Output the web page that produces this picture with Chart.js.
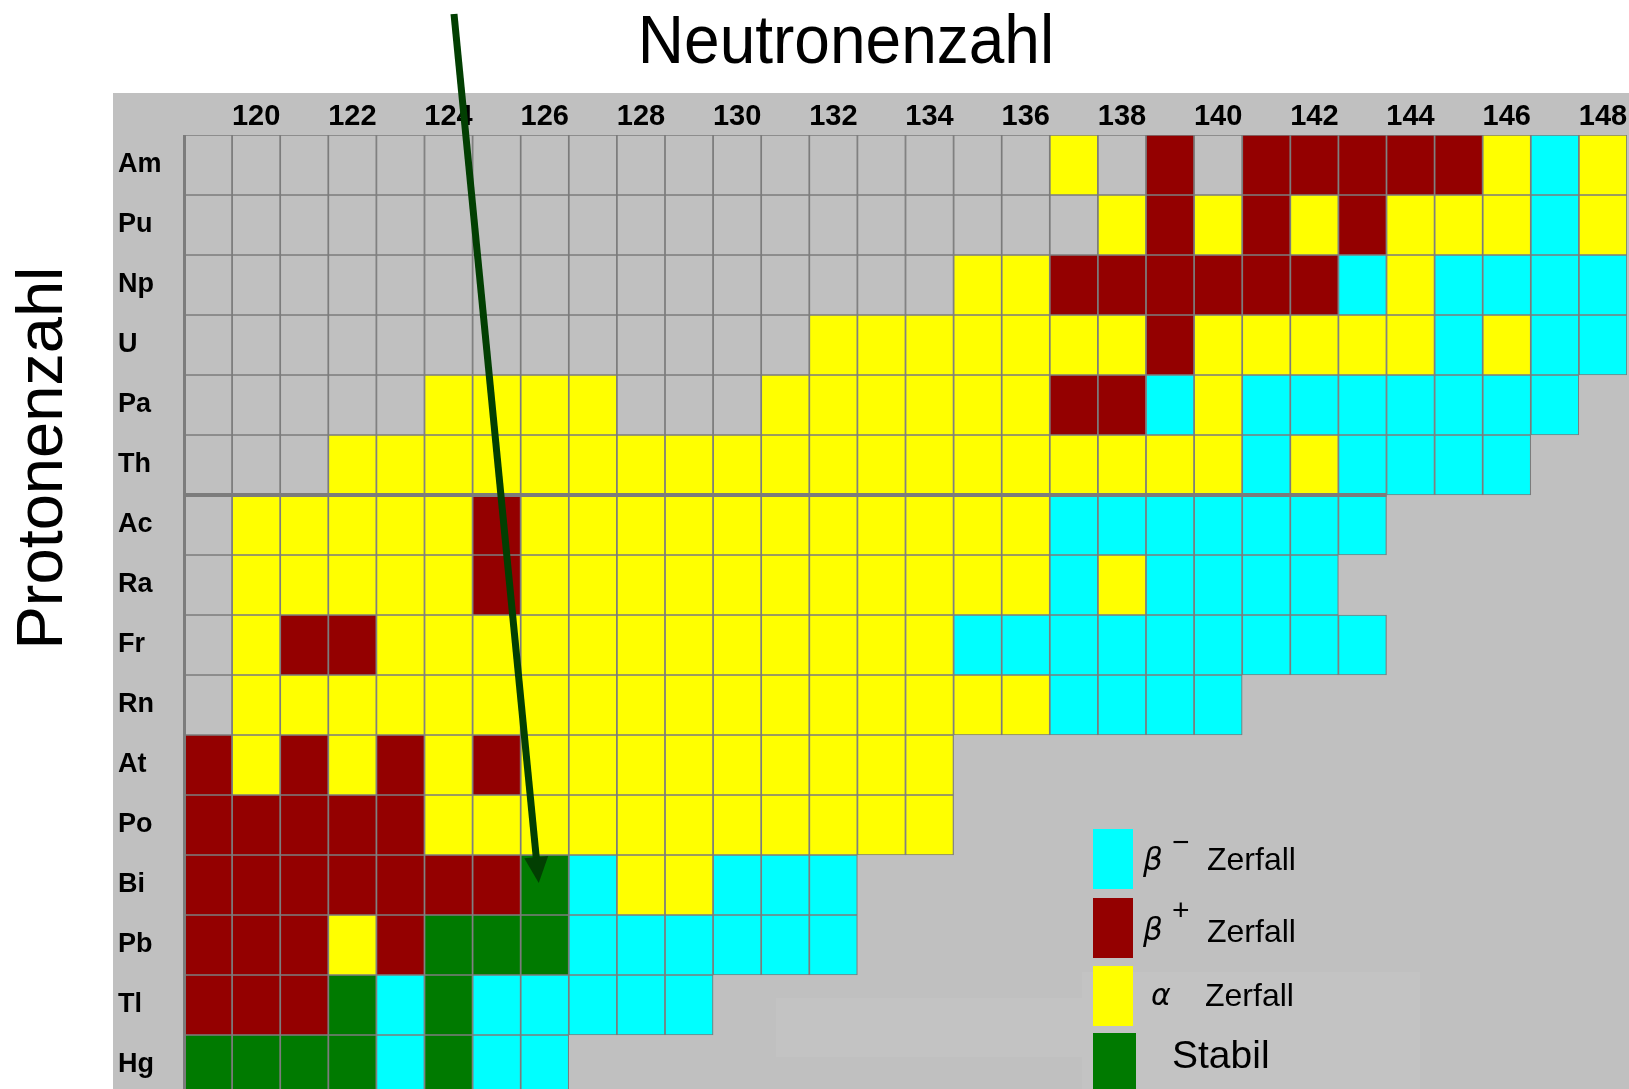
<!DOCTYPE html>
<html>
<head>
<meta charset="utf-8">
<script src="https://cdn.jsdelivr.net/npm/chart.js@4.4.1/dist/chart.umd.min.js"></script>
<style>
html,body{margin:0;padding:0;overflow:hidden;background:#fff;}
canvas{display:block;}
</style>
</head>
<body>
<canvas id="c" width="1629" height="1100"></canvas>
<script>
// ---------- data ----------
const neutronNumbers = [119,120,121,122,123,124,125,126,127,128,129,130,131,132,133,134,135,136,137,138,139,140,141,142,143,144,145,146,147,148];
const neutronTicks = [120,122,124,126,128,130,132,134,136,138,140,142,144,146,148];
const elements = ['Am','Pu','Np','U','Pa','Th','Ac','Ra','Fr','Rn','At','Po','Bi','Pb','Tl','Hg'];
const protonNumbers = [95,94,93,92,91,90,89,88,87,86,85,84,83,82,81,80];
// one character per neutron number (119..148):
// '-' unbekannt (grau), 'a' alpha, 'm' beta-minus, 'p' beta-plus, 's' stabil, '.' kein Nuklid
const decayModes = [
  '------------------a-p-pppppama', // Am
  '-------------------apapapaaama', // Pu
  '----------------aappppppmammmm', // Np
  '-------------aaaaaaapaaaaamamm', // U
  '-----aaaa---aaaaaappmammmmmmm.', // Pa
  '---aaaaaaaaaaaaaaaaaaamammmm..', // Th
  '-aaaaapaaaaaaaaaaammmmmmm.....', // Ac
  '-aaaaapaaaaaaaaaaamammmm......', // Ra
  '-appaaaaaaaaaaaammmmmmmmm.....', // Fr
  '-aaaaaaaaaaaaaaaaammmm........', // Rn
  'papapapaaaaaaaaa..............', // At
  'pppppaaaaaaaaaaa..............', // Po
  'pppppppsmaammm................', // Bi
  'pppapsssmmmmmm................', // Pb
  'pppsmsmmmmm...................', // Tl
  'ssssmsmm......................'  // Hg
];
const legendLabels = ['Zerfall','Zerfall','Zerfall','Stabil'];
const legendSymbols = ['β','β','α',''];
const legendModes = ['m','p','a','s'];
const arrowTarget = {n:126, z:83};

// ---------- styles ----------
const modeColors = {'-':'#c0c0c0', a:'#ffff00', m:'#00ffff', p:'#940000', s:'#007a00'};

const datasets = elements.map((el, r) => {
  const codes = decayModes[r].split('');
  return {
    label: el,
    data: codes.map(c => c === '.' ? null : [protonNumbers[r] - 0.5, protonNumbers[r] + 0.5]),
    backgroundColor: codes.map(c => modeColors[c] || 'rgba(0,0,0,0)'),
    borderColor: '#7c7c7c',
    borderWidth: 1.2,
    borderSkipped: false,
    barPercentage: 1,
    categoryPercentage: 1,
    grouped: false
  };
});

const decor = {
  id: 'decor',
  beforeDraw(chart) {
    const ctx = chart.ctx;
    ctx.save();
    ctx.fillStyle = '#ffffff';
    ctx.fillRect(0, 0, chart.width, chart.height);
    ctx.fillStyle = '#c0c0c0';
    ctx.fillRect(113, 93, chart.width - 113, chart.height - 93);
    ctx.fillStyle = '#c3c3c3';
    ctx.fillRect(776, 998, 306, 59);
    ctx.fillRect(1082, 972, 338, 117);
    ctx.restore();
  },
  afterDatasetsDraw(chart) {
    const ctx = chart.ctx;
    const xs = chart.scales.x, ys = chart.scales.y;
    const half = (xs.getPixelForValue(1) - xs.getPixelForValue(0)) / 2;
    ctx.save();
    // thicker separator between Th and Ac
    const ySep = ys.getPixelForValue(89.5);
    ctx.strokeStyle = '#7c7c7c';
    ctx.lineWidth = 4;
    ctx.beginPath();
    ctx.moveTo(chart.chartArea.left, ySep);
    ctx.lineTo(xs.getPixelForValue(24) + half, ySep);
    ctx.stroke();
    // thicker left edge
    ctx.lineWidth = 3;
    ctx.beginPath();
    ctx.moveTo(chart.chartArea.left + 0.5, chart.chartArea.top);
    ctx.lineTo(chart.chartArea.left + 0.5, chart.chartArea.bottom);
    ctx.stroke();
    ctx.restore();
  },
  afterDraw(chart) {
    const ctx = chart.ctx;
    const xs = chart.scales.x, ys = chart.scales.y;
    ctx.save();
    ctx.fillStyle = '#000';
    // title
    ctx.save();
    ctx.font = '64px "Liberation Sans", Arial, sans-serif';
    ctx.textAlign = 'center';
    ctx.textBaseline = 'alphabetic';
    ctx.translate(846, 63);
    ctx.scale(1, 1.08);
    ctx.fillText('Neutronenzahl', 0, 0);
    ctx.restore();
    // y title
    ctx.save();
    ctx.font = '65px "Liberation Sans", Arial, sans-serif';
    ctx.textAlign = 'center';
    ctx.textBaseline = 'alphabetic';
    ctx.translate(62, 458);
    ctx.rotate(-Math.PI / 2);
    ctx.fillText('Protonenzahl', 0, 0);
    ctx.restore();

    // legend
    const boxTops = [829, 898, 966, 1033];
    legendModes.forEach((m, i) => {
      ctx.fillStyle = modeColors[m];
      ctx.fillRect(1093, boxTops[i], i === 3 ? 43 : 40, 60);
    });
    ctx.fillStyle = '#000';
    ctx.textAlign = 'left';
    ctx.textBaseline = 'alphabetic';
    ctx.font = 'italic 31px "DejaVu Sans", sans-serif';
    ctx.fillText(legendSymbols[0], 1143, 870);
    ctx.fillText(legendSymbols[1], 1143, 940);
    ctx.font = 'italic 30px "DejaVu Sans", sans-serif';
    ctx.fillText(legendSymbols[2], 1151, 1005);
    ctx.font = '30px "Liberation Sans", Arial, sans-serif';
    ctx.fillText('−', 1172, 852);
    ctx.fillText('+', 1172, 920);
    ctx.font = '32px "Liberation Sans", Arial, sans-serif';
    ctx.fillText(legendLabels[0], 1207, 870);
    ctx.fillText(legendLabels[1], 1207, 942);
    ctx.fillText(legendLabels[2], 1205, 1006);
    ctx.font = '39px "Liberation Sans", Arial, sans-serif';
    ctx.fillText(legendLabels[3], 1172, 1068);

    // arrow
    const tipX = xs.getPixelForValue(neutronNumbers.indexOf(arrowTarget.n)) - 6;
    const tipY = ys.getPixelForValue(arrowTarget.z) - 2;
    const sx = 454, sy = 14;
    const len = Math.hypot(tipX - sx, tipY - sy);
    const dx = (tipX - sx) / len, dy = (tipY - sy) / len;
    const headLen = 26, headHalf = 12;
    const bx = tipX - dx * headLen, by = tipY - dy * headLen;
    ctx.strokeStyle = '#023f02';
    ctx.fillStyle = '#023f02';
    ctx.lineWidth = 7;
    ctx.beginPath();
    ctx.moveTo(sx, sy);
    ctx.lineTo(bx + dx * 2, by + dy * 2);
    ctx.stroke();
    ctx.beginPath();
    ctx.moveTo(tipX, tipY);
    ctx.lineTo(bx - dy * headHalf, by + dx * headHalf);
    ctx.lineTo(bx + dy * headHalf, by - dx * headHalf);
    ctx.closePath();
    ctx.fill();
    ctx.restore();
  }
};

new Chart(document.getElementById('c'), {
  type: 'bar',
  data: { labels: neutronNumbers.map(String), datasets },
  options: {
    responsive: false,
    animation: false,
    layout: { padding: { left: 118, top: 93, right: 2, bottom: 5 } },
    plugins: { legend: { display: false }, tooltip: { enabled: false }, title: { display: false } },
    scales: {
      x: {
        type: 'category',
        position: 'top',
        offset: true,
        grid: { display: false, drawTicks: false },
        border: { display: false },
        ticks: {
          autoSkip: false, maxRotation: 0, minRotation: 0, padding: 1, color: '#000',
          font: { family: '"Liberation Sans", Arial, sans-serif', weight: 'bold', size: 29 },
          callback(v, i) { const n = neutronNumbers[i]; return neutronTicks.includes(n) ? String(n) : ''; }
        },
        afterFit(s) { s.height = 42; s.paddingLeft = 0; s.paddingRight = 0; }
      },
      y: {
        type: 'linear',
        min: 79.5, max: 95.5,
        grid: { display: false, drawTicks: false },
        border: { display: false },
        afterBuildTicks(s) { s.ticks = protonNumbers.map(v => ({ value: v })); },
        ticks: {
          crossAlign: 'far', padding: 0, color: '#000', autoSkip: false,
          font: { family: '"Liberation Sans", Arial, sans-serif', weight: 'bold', size: 27 },
          callback(v) { const i = protonNumbers.indexOf(v); return i >= 0 ? elements[i] : ''; }
        },
        afterFit(s) { s.width = 66; s.paddingTop = 0; s.paddingBottom = 0; }
      }
    }
  },
  plugins: [decor]
});
</script>
</body>
</html>
